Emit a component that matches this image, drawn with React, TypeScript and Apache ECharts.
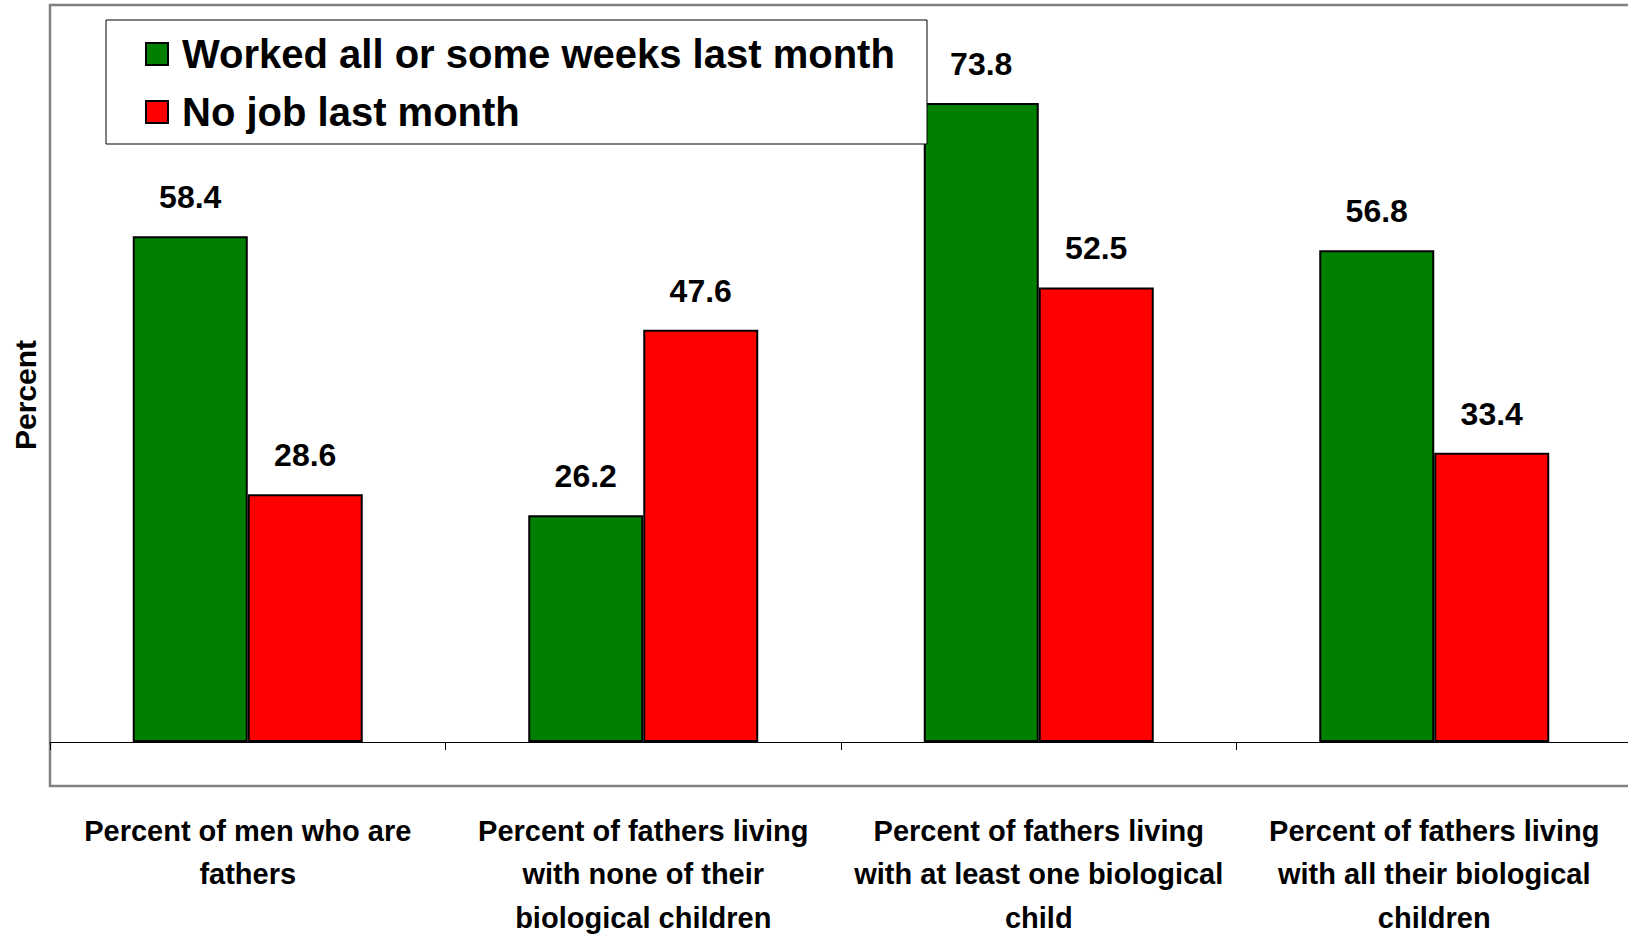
import React, { useEffect, useRef } from "react";
import * as echarts from "echarts";

const categories = [
  "Percent of men who are\nfathers",
  "Percent of fathers living\nwith none of their\nbiological children",
  "Percent of fathers living\nwith at least one biological\nchild",
  "Percent of fathers living\nwith all their biological\nchildren",
];
const workedValues = [58.4, 26.2, 73.8, 56.8];
const noJobValues = [28.6, 47.6, 52.5, 33.4];
const seriesNames = ["Worked all or some weeks last month", "No job last month"];
const yAxisTitle = "Percent";

const SANS = "'Liberation Sans', Arial, sans-serif";

export default function App() {
  const ref = useRef<HTMLDivElement>(null);
  useEffect(() => {
    if (!ref.current) return;
    const chart = echarts.init(ref.current, undefined, { renderer: "svg" });
    const label = {
      show: true,
      position: "top" as const,
      distance: 23,
      color: "#000",
      fontFamily: SANS,
      fontWeight: "bold" as const,
      fontSize: 32,
      formatter: (p: any) => Number(p.value).toFixed(1),
    };
    chart.setOption({
      animation: false,
      backgroundColor: "#fff",
      graphic: [
        {
          type: "rect",
          shape: { x: 50, y: 5, width: 1620, height: 781 },
          style: { fill: "none", stroke: "#808080", lineWidth: 2.5 },
          z: -1,
          silent: true,
        },
        {
          type: "rect",
          shape: { x: 106, y: 20, width: 821, height: 124 },
          style: { fill: "#fff", stroke: "#000", lineWidth: 1 },
          z: 5,
          silent: true,
        },
        {
          type: "text",
          x: 25,
          y: 395,
          rotation: Math.PI / 2,
          style: {
            text: yAxisTitle,
            fill: "#000",
            font: "bold 30px 'Liberation Sans', Arial, sans-serif",
            align: "center",
            verticalAlign: "middle",
          },
          silent: true,
        },
      ],
      legend: {
        orient: "vertical",
        left: 145,
        top: 31,
        padding: 0,
        itemWidth: 22,
        itemHeight: 22,
        itemGap: 12,
        icon: "rect",
        z: 10,
        textStyle: {
          color: "#000",
          fontFamily: SANS,
          fontWeight: "bold",
          fontSize: 40,
          lineHeight: 46,
          padding: [0, 0, 0, 9],
        },
        data: seriesNames,
      },
      grid: {
        left: 50,
        top: 6,
        height: 736,
        width: 1582,
        containLabel: false,
        outerBoundsMode: "none",
      },
      xAxis: {
        type: "category",
        data: categories,
        axisLine: { show: true, lineStyle: { color: "#000", width: 1 } },
        axisTick: { show: true, length: 8, lineStyle: { color: "#000" } },
        axisLabel: {
          interval: 0,
          margin: 67,
          color: "#000",
          fontFamily: SANS,
          fontWeight: "bold",
          fontSize: 29,
          lineHeight: 43.5,
          hideOverlap: false,
        },
      },
      yAxis: {
        type: "value",
        min: 0,
        max: 85,
        axisLine: { show: false },
        axisTick: { show: false },
        axisLabel: { show: false },
        splitLine: { show: false },
      },
      series: [
        {
          name: seriesNames[0],
          type: "bar",
          data: workedValues,
          barWidth: 115,
          barGap: "0%",
          itemStyle: { color: "#008000", borderColor: "#000", borderWidth: 2 },
          label,
        },
        {
          name: seriesNames[1],
          type: "bar",
          data: noJobValues,
          barWidth: 115,
          barGap: "0%",
          itemStyle: { color: "#ff0000", borderColor: "#000", borderWidth: 2 },
          label,
        },
      ],
    });
    return () => chart.dispose();
  }, []);
  return (
    <div
      ref={ref}
      style={{ position: "fixed", left: 0, top: 0, width: 1628, height: 935, background: "#fff" }}
    />
  );
}
